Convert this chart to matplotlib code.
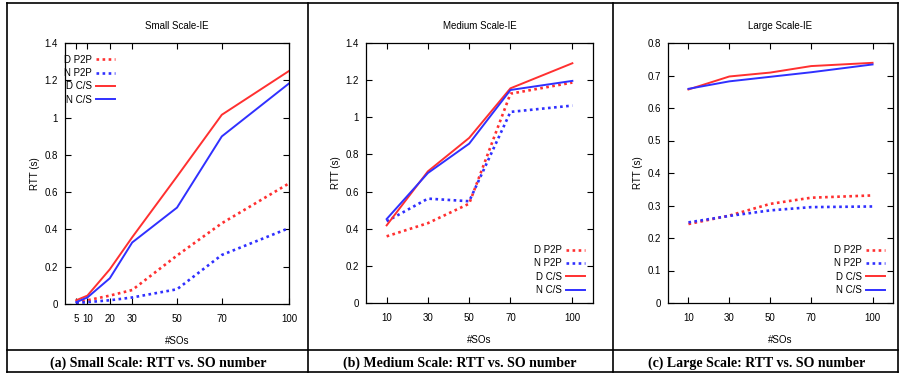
import matplotlib
matplotlib.use('Agg')
import matplotlib.pyplot as plt
from matplotlib.lines import Line2D
from matplotlib.ticker import FuncFormatter

plt.rcParams['font.family'] = ['Liberation Sans', 'DejaVu Sans']

# data
x_small = [5, 10, 20, 30, 50, 70, 100]
small_d_p2p = [0.01, 0.02, 0.045, 0.075, 0.26, 0.433, 0.647]
small_n_p2p = [0.005, 0.01, 0.02, 0.035, 0.079, 0.263, 0.407]
small_d_cs = [0.02, 0.045, 0.186, 0.358, 0.684, 1.015, 1.25]
small_n_cs = [0.01, 0.035, 0.138, 0.33, 0.517, 0.899, 1.183]

x_big = [10, 30, 50, 70, 100]
med_d_p2p = [0.359, 0.43, 0.535, 1.127, 1.187]
med_n_p2p = [0.44, 0.562, 0.548, 1.029, 1.063]
med_d_cs = [0.418, 0.709, 0.889, 1.156, 1.291]
med_n_cs = [0.452, 0.70, 0.858, 1.147, 1.196]

large_d_p2p = [0.243, 0.269, 0.305, 0.324, 0.331]
large_n_p2p = [0.248, 0.268, 0.285, 0.295, 0.297]
large_d_cs = [0.657, 0.697, 0.709, 0.729, 0.739]
large_n_cs = [0.659, 0.682, 0.696, 0.710, 0.734]

labels = ['D P2P', 'N P2P', 'D C/S', 'N C/S']
red = '#ff3030'
blue = '#3030ff'

fig = plt.figure(figsize=(9.01, 3.74), dpi=100)
W, H = 901, 374

def px_axes(l, r, t, b):
    return fig.add_axes([l / W, 1 - b / H, (r - l) / W, (b - t) / H])

panels = [
    dict(box=(65, 289, 43, 304), x=x_small, xlim=(0, 100), ylim=(0, 1.4),
         yticks=[0, 0.2, 0.4, 0.6, 0.8, 1, 1.2, 1.4],
         series=[small_d_p2p, small_n_p2p, small_d_cs, small_n_cs],
         title='Small Scale-IE', loc='upper left', anchor=(-0.04, 0.985),
         caption='(a) Small Scale: RTT vs. SO number', cx=158),
    dict(box=(366, 593, 43, 303), x=x_big, xlim=(0, 110), ylim=(0, 1.4),
         yticks=[0, 0.2, 0.4, 0.6, 0.8, 1, 1.2, 1.4],
         series=[med_d_p2p, med_n_p2p, med_d_cs, med_n_cs],
         title='Medium Scale-IE', loc='lower right', anchor=(1, 0),
         caption='(b) Medium Scale: RTT vs. SO number', cx=460),
    dict(box=(668, 893, 43, 303), x=x_big, xlim=(0, 110), ylim=(0, 0.8),
         yticks=[0, 0.1, 0.2, 0.3, 0.4, 0.5, 0.6, 0.7, 0.8],
         series=[large_d_p2p, large_n_p2p, large_d_cs, large_n_cs],
         title='Large Scale-IE', loc='lower right', anchor=(1, 0),
         caption='(c) Large Scale: RTT vs. SO number', cx=757),
]

styles = [(red, (0, (1, 1.3))), (blue, (0, (1, 1.3))), (red, '-'), (blue, '-')]

for p in panels:
    ax = px_axes(*p['box'])
    for ys, lab, (c, ls) in zip(p['series'], labels, styles):
        ax.plot(p['x'], ys, color=c, linestyle=ls, lw=1.4 if ls == '-' else 1.9,
                label=lab)
    ax.set_xlim(*p['xlim'])
    ax.set_ylim(*p['ylim'])
    ax.set_xticks(p['x'])
    ax.set_yticks(p['yticks'])
    ax.yaxis.set_major_formatter(FuncFormatter(lambda v, pos: '%g' % round(v, 2)))
    ax.tick_params(direction='in', top=True, right=True, labelsize=7,
                   length=4, width=0.8)
    ax.tick_params(axis='x', pad=7)
    ax.tick_params(axis='y', pad=5)
    for s in ax.spines.values():
        s.set_linewidth(0.9)
    ax.set_title(p['title'], fontsize=7, pad=10)
    ax.set_xlabel('#SOs', fontsize=7, labelpad=9)
    ax.set_ylabel('RTT (s)', fontsize=7, labelpad=3)
    ax.legend(loc=p['loc'], bbox_to_anchor=p['anchor'], frameon=False,
              markerfirst=False, fontsize=7, handlelength=2.0,
              handletextpad=0.4, labelspacing=0.35, borderaxespad=0.4)
    fig.text(p['cx'] / W, 1 - 363 / H, p['caption'], ha='center', va='center',
             fontsize=10, fontweight='bold', family='Liberation Serif')

# table lines around the panels
def hline(y, x0=7, x1=898):
    fig.add_artist(Line2D([x0 / W, x1 / W], [1 - y / H, 1 - y / H],
                          color='black', lw=1.2))

def vline(x, y0=3, y1=372):
    fig.add_artist(Line2D([x / W, x / W], [1 - y0 / H, 1 - y1 / H],
                          color='black', lw=1.2))

hline(3)
hline(350)
hline(372)
vline(7)
vline(308)
vline(613)
vline(898)

fig.savefig('out.png', dpi=100)
